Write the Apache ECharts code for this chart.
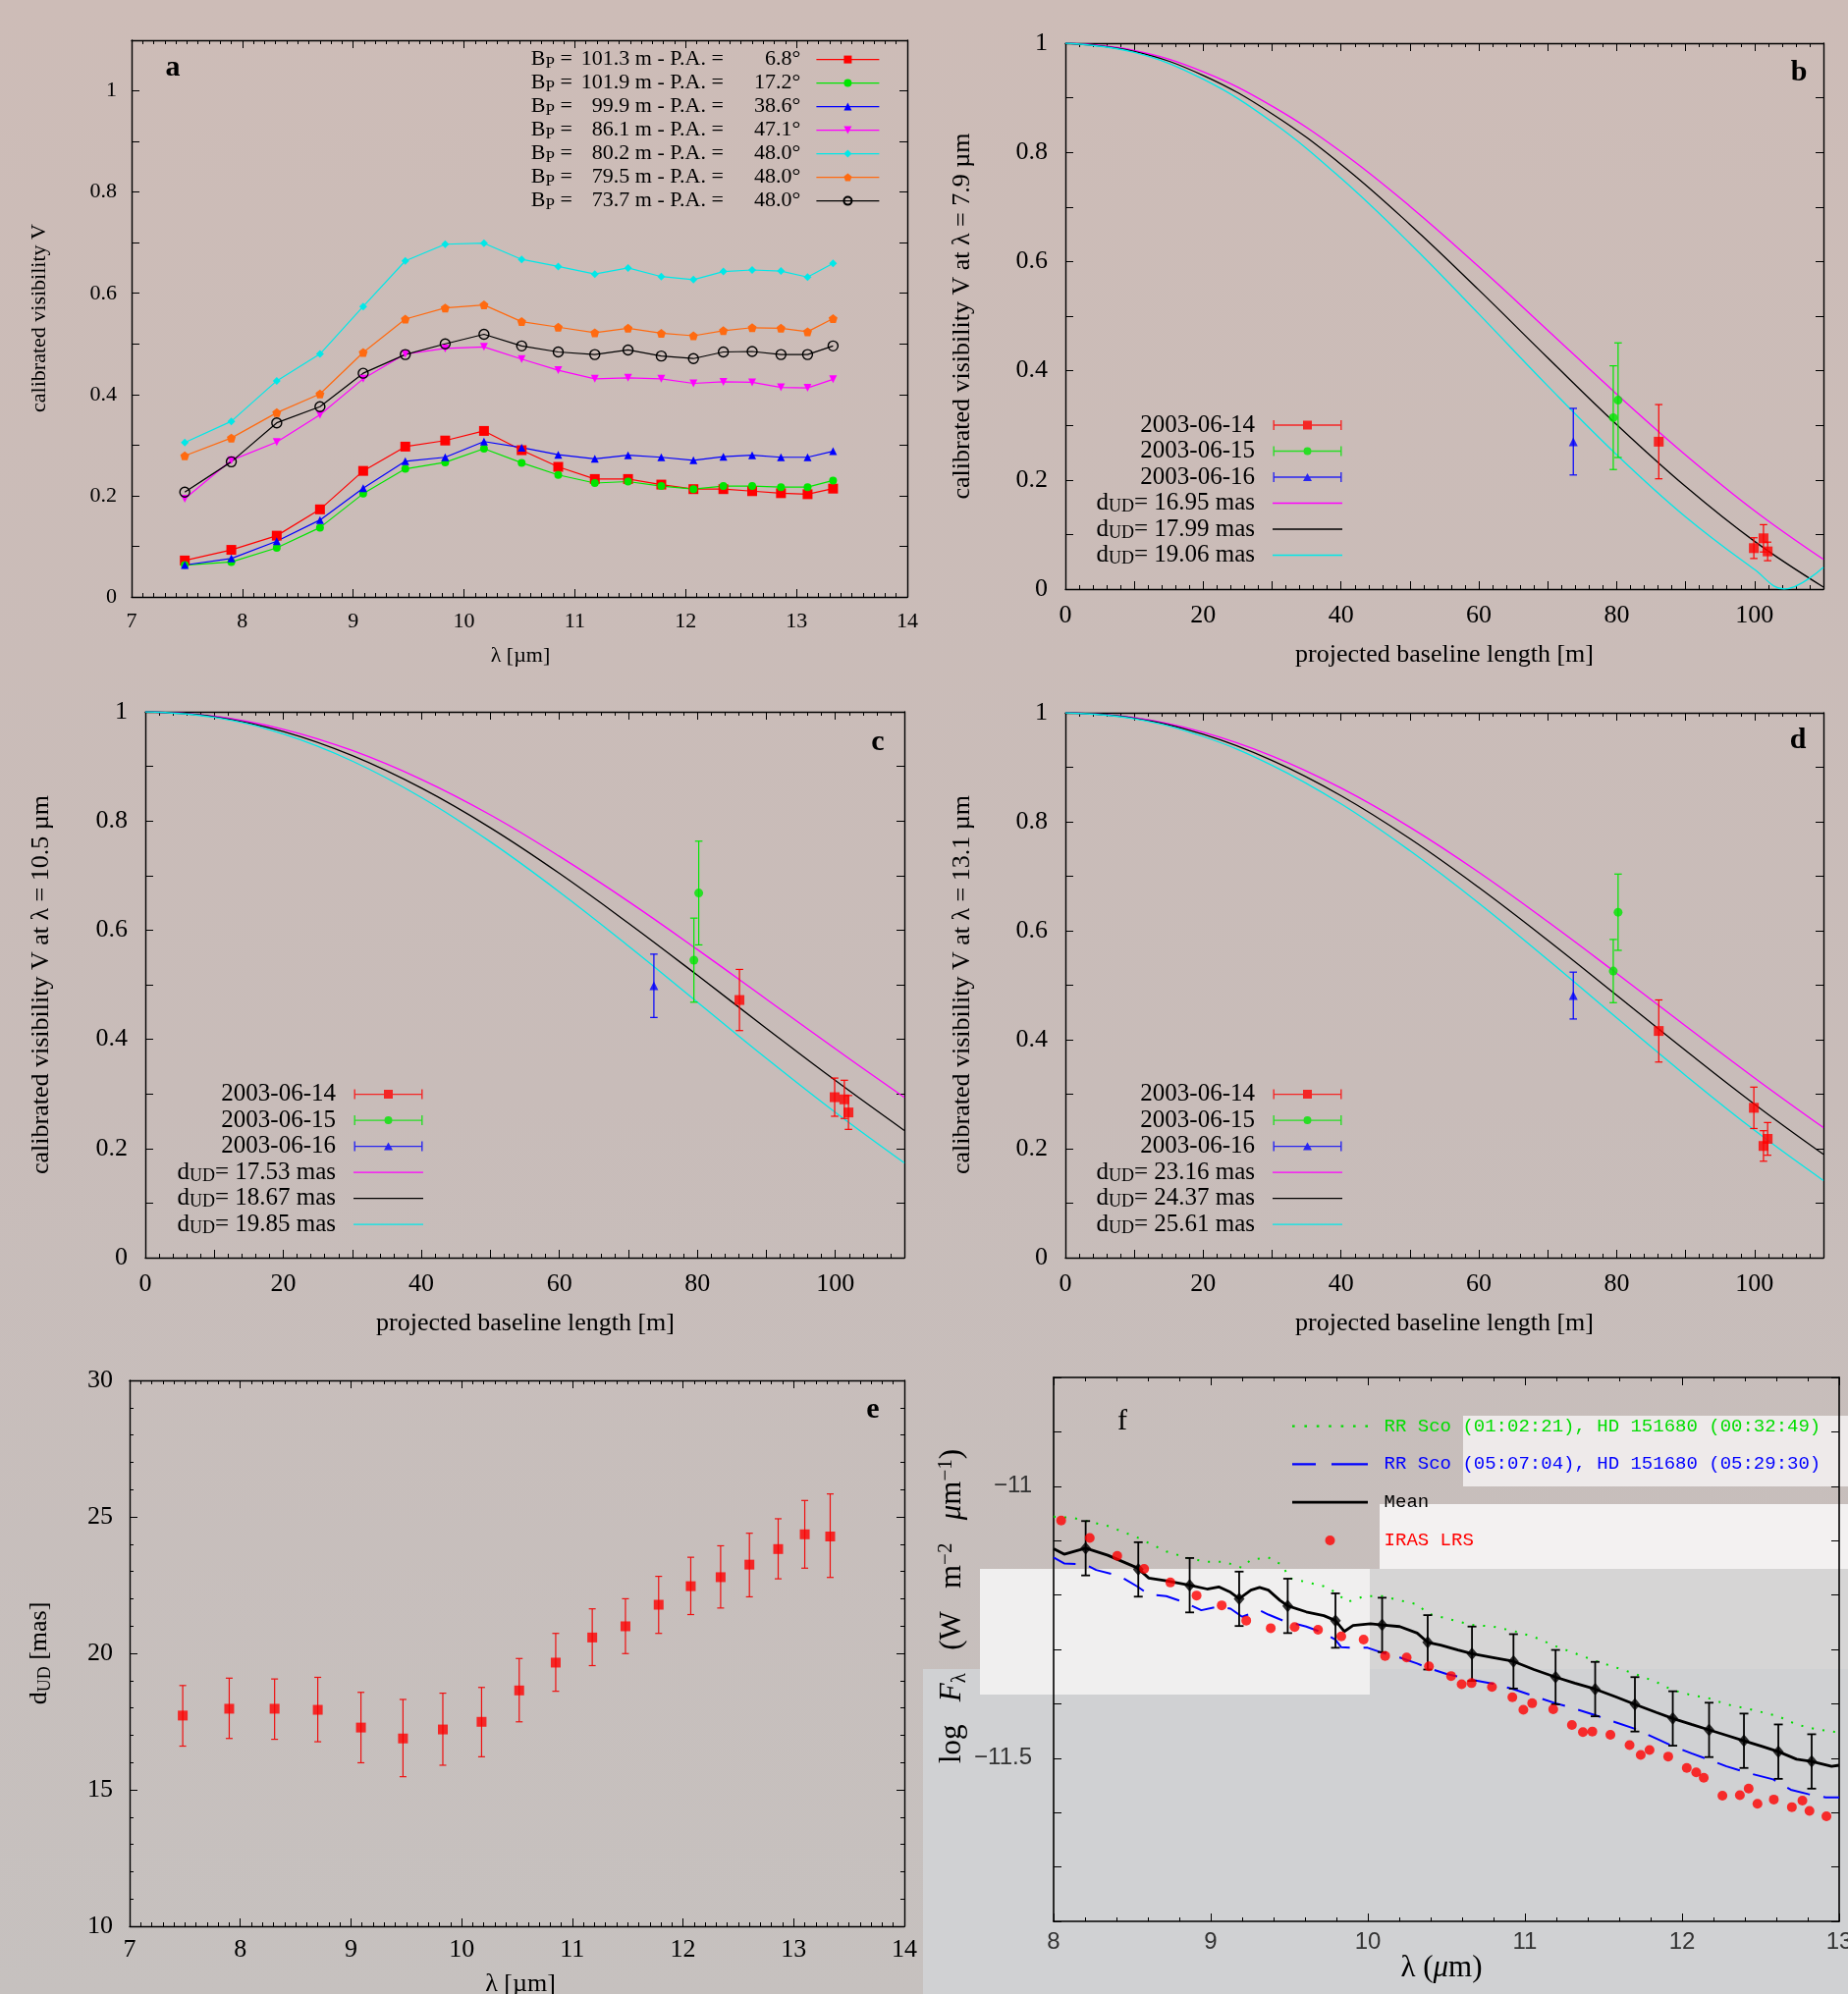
<!DOCTYPE html>
<html>
<head>
<meta charset="utf-8">
<script src="https://cdn.jsdelivr.net/npm/echarts@6/dist/echarts.min.js"></script>
<style>
  html, body { margin: 0; padding: 0; background: #c8bbb7; }
  #main { width: 1882px; height: 2031px; }
</style>
</head>
<body>
<div id="main"></div>
<script>
// ---------- data ----------
// panel a / e : wavelength grid [um]
const lambda = [7.48, 7.90, 8.31, 8.70, 9.09, 9.47, 9.83, 10.18, 10.52, 10.85, 11.18, 11.48, 11.78, 12.07, 12.34, 12.60, 12.86, 13.10, 13.33];
const baseA = ['101.3', '101.9', '99.9', '86.1', '80.2', '79.5', '73.7'];
const paA = ['6.8°', '17.2°', '38.6°', '47.1°', '48.0°', '48.0°', '48.0°'];
const visRed = [0.072, 0.093, 0.121, 0.173, 0.249, 0.297, 0.309, 0.328, 0.290, 0.257, 0.233, 0.233, 0.222, 0.213, 0.213, 0.209, 0.205, 0.203, 0.214];
const visGreen = [0.063, 0.069, 0.097, 0.137, 0.204, 0.253, 0.266, 0.293, 0.265, 0.241, 0.225, 0.228, 0.219, 0.213, 0.219, 0.219, 0.217, 0.217, 0.230];
const visBlue = [0.063, 0.076, 0.110, 0.152, 0.215, 0.268, 0.276, 0.307, 0.295, 0.281, 0.273, 0.280, 0.276, 0.270, 0.277, 0.280, 0.276, 0.276, 0.288];
const visMagenta = [0.194, 0.270, 0.306, 0.360, 0.431, 0.480, 0.491, 0.494, 0.470, 0.448, 0.431, 0.433, 0.431, 0.422, 0.425, 0.424, 0.414, 0.413, 0.430];
const visCyan = [0.305, 0.347, 0.427, 0.480, 0.574, 0.664, 0.697, 0.699, 0.667, 0.653, 0.638, 0.650, 0.633, 0.627, 0.643, 0.646, 0.644, 0.632, 0.659];
const visOrange = [0.279, 0.314, 0.364, 0.401, 0.483, 0.549, 0.571, 0.577, 0.544, 0.533, 0.522, 0.531, 0.521, 0.516, 0.526, 0.532, 0.531, 0.524, 0.550];
const visBlack = [0.207, 0.267, 0.344, 0.376, 0.442, 0.479, 0.500, 0.519, 0.496, 0.484, 0.479, 0.488, 0.476, 0.471, 0.484, 0.485, 0.479, 0.479, 0.496];

// panels b, c, d : observations vs projected baseline [m]
const base14 = [99.9, 101.3, 101.9, 86.1];
const base15 = [79.5, 80.2];
const base16 = [73.7];
const v14b = [0.075, 0.093, 0.069, 0.270], e14b = [0.019, 0.025, 0.017, 0.068];
const v15b = [0.314, 0.346], e15b = [0.095, 0.105];
const v16b = [0.270], e16b = [0.061];
const v14c = [0.294, 0.290, 0.266, 0.472], e14c = [0.035, 0.035, 0.031, 0.056];
const v15c = [0.545, 0.668], e15c = [0.077, 0.095];
const v16c = [0.498], e16c = [0.058];
const v14d = [0.275, 0.205, 0.218, 0.416], e14d = [0.038, 0.028, 0.030, 0.057];
const v15d = [0.526, 0.634], e15d = [0.058, 0.070];
const v16d = [0.481], e16d = [0.043];

// uniform disk curves, read every 10 m
const baseCurve = [0, 10, 20, 30, 40, 50, 60, 70, 80, 90, 100, 110];
const baseCurveB3 = [0, 10, 20, 30, 40, 50, 60, 70, 80, 90, 100, 104.3, 110];
const udB1 = [1, 0.9867, 0.9476, 0.8846, 0.8011, 0.7011, 0.5903, 0.4740, 0.3572, 0.2457, 0.1436, 0.0545];
const udB2 = [1, 0.9850, 0.9410, 0.8706, 0.7780, 0.6679, 0.5479, 0.4236, 0.3014, 0.1879, 0.0875, 0.0037];
const udB3 = [1, 0.9832, 0.9340, 0.8556, 0.7525, 0.6331, 0.5038, 0.3721, 0.2461, 0.1323, 0.0358, 0, 0.040];
const udC1 = [1, 0.9919, 0.9680, 0.9290, 0.8761, 0.8111, 0.7353, 0.6527, 0.5645, 0.4736, 0.3826, 0.2936];
const udC2 = [1, 0.9909, 0.9638, 0.9197, 0.8603, 0.7876, 0.7041, 0.6129, 0.5174, 0.4201, 0.3245, 0.2330];
const udC3 = [1, 0.9897, 0.9591, 0.9096, 0.8431, 0.7619, 0.6701, 0.5711, 0.4682, 0.3652, 0.2662, 0.1736];
const udD1 = [1, 0.9910, 0.9642, 0.9206, 0.8618, 0.7899, 0.7072, 0.6166, 0.5218, 0.4252, 0.3299, 0.2387];
const udD2 = [1, 0.9900, 0.9604, 0.9124, 0.8478, 0.7689, 0.6793, 0.5825, 0.4815, 0.3800, 0.2815, 0.1895];
const udD3 = [1, 0.9890, 0.9563, 0.9035, 0.8329, 0.7467, 0.6505, 0.5467, 0.4399, 0.3344, 0.2336, 0.1415];

// panel e : uniform disk diameter [mas]
const dUD = [17.72, 17.97, 17.97, 17.93, 17.28, 16.88, 17.21, 17.49, 18.64, 19.66, 20.58, 20.99, 21.78, 22.46, 22.79, 23.25, 23.82, 24.36, 24.28];
const dHi = [18.82, 19.09, 19.06, 19.12, 18.57, 18.31, 18.54, 18.75, 19.81, 20.73, 21.63, 22.00, 22.82, 23.52, 23.94, 24.40, 24.93, 25.60, 25.84];
const dLo = [16.60, 16.88, 16.85, 16.76, 15.99, 15.48, 15.90, 16.21, 17.49, 18.61, 19.55, 19.99, 20.73, 21.42, 21.66, 22.07, 22.73, 23.12, 22.78];

// panel f : spectra, log F_lambda
const lamEarly = [8.000, 8.123, 8.345, 8.531, 8.717, 8.866, 8.977, 9.088, 9.200, 9.256, 9.367, 9.460, 9.497, 9.608, 9.720, 9.794, 9.869, 9.980, 10.091, 10.203, 10.314, 10.381, 10.500, 10.663, 10.797, 10.927, 11.057, 11.195, 11.317, 11.447, 11.577, 11.700, 11.837, 11.941, 12.060, 12.172, 12.283, 12.432, 12.613, 12.729, 12.840, 13.000];
const fluxEarly = [-11.056, -11.058, -11.073, -11.094, -11.120, -11.133, -11.139, -11.139, -11.150, -11.135, -11.131, -11.146, -11.169, -11.176, -11.184, -11.195, -11.213, -11.202, -11.202, -11.210, -11.217, -11.234, -11.243, -11.255, -11.258, -11.266, -11.277, -11.294, -11.307, -11.321, -11.333, -11.345, -11.360, -11.375, -11.384, -11.390, -11.401, -11.410, -11.423, -11.438, -11.446, -11.453];
const lamLate = [8.000, 8.067, 8.204, 8.271, 8.420, 8.531, 8.606, 8.717, 8.828, 8.940, 9.051, 9.126, 9.200, 9.311, 9.367, 9.460, 9.608, 9.720, 9.794, 9.831, 9.906, 9.999, 10.091, 10.203, 10.314, 10.381, 10.500, 10.663, 10.797, 10.927, 11.057, 11.195, 11.317, 11.447, 11.577, 11.700, 11.837, 11.941, 12.060, 12.172, 12.283, 12.432, 12.580, 12.692, 12.803, 12.914, 13.000];
const fluxLate = [-11.131, -11.142, -11.144, -11.154, -11.165, -11.184, -11.199, -11.202, -11.213, -11.228, -11.221, -11.225, -11.240, -11.228, -11.236, -11.247, -11.258, -11.270, -11.282, -11.296, -11.297, -11.297, -11.306, -11.315, -11.326, -11.334, -11.345, -11.356, -11.363, -11.373, -11.386, -11.399, -11.409, -11.421, -11.434, -11.446, -11.464, -11.478, -11.491, -11.503, -11.515, -11.528, -11.539, -11.558, -11.566, -11.572, -11.572];
const lamMeanLine = [8.000, 8.067, 8.204, 8.345, 8.531, 8.606, 8.717, 8.866, 8.977, 9.051, 9.126, 9.181, 9.256, 9.311, 9.367, 9.441, 9.490, 9.608, 9.720, 9.794, 9.850, 9.906, 10.017, 10.091, 10.203, 10.314, 10.381, 10.463, 10.574, 10.663, 10.797, 10.927, 11.057, 11.195, 11.317, 11.447, 11.577, 11.700, 11.837, 11.941, 12.060, 12.172, 12.283, 12.394, 12.506, 12.613, 12.729, 12.825, 12.952, 13.000];
const fluxMeanLine = [-11.115, -11.125, -11.114, -11.127, -11.150, -11.169, -11.174, -11.182, -11.189, -11.185, -11.195, -11.207, -11.191, -11.186, -11.191, -11.210, -11.220, -11.231, -11.238, -11.247, -11.267, -11.256, -11.253, -11.255, -11.258, -11.270, -11.287, -11.292, -11.301, -11.308, -11.315, -11.322, -11.337, -11.351, -11.362, -11.373, -11.387, -11.401, -11.416, -11.427, -11.438, -11.448, -11.458, -11.468, -11.478, -11.488, -11.502, -11.506, -11.515, -11.513];
const lamMean = [8.204, 8.539, 8.866, 9.181, 9.490, 9.794, 10.091, 10.381, 10.663, 10.927, 11.195, 11.447, 11.700, 11.941, 12.172, 12.394, 12.613, 12.825];
const fluxMean = [-11.114, -11.153, -11.182, -11.207, -11.220, -11.247, -11.255, -11.287, -11.308, -11.322, -11.351, -11.373, -11.401, -11.427, -11.448, -11.468, -11.488, -11.506];
const errMean = [0.05, 0.05, 0.05, 0.05, 0.05, 0.05, 0.05, 0.05, 0.05, 0.05, 0.05, 0.05, 0.05, 0.05, 0.05, 0.05, 0.05, 0.05];
const lamIras = [8.048, 8.230, 8.405, 8.576, 8.743, 8.910, 9.070, 9.226, 9.382, 9.534, 9.683, 9.831, 9.973, 10.110, 10.247, 10.389, 10.530, 10.597, 10.660, 10.790, 10.920, 10.990, 11.046, 11.180, 11.299, 11.369, 11.429, 11.544, 11.666, 11.737, 11.793, 11.912, 12.030, 12.090, 12.138, 12.257, 12.368, 12.424, 12.480, 12.584, 12.699, 12.766, 12.811, 12.919];
const fluxIras = [-11.063, -11.095, -11.128, -11.152, -11.177, -11.201, -11.219, -11.247, -11.261, -11.259, -11.264, -11.276, -11.282, -11.312, -11.315, -11.331, -11.349, -11.364, -11.362, -11.369, -11.388, -11.411, -11.399, -11.410, -11.439, -11.452, -11.451, -11.457, -11.476, -11.494, -11.485, -11.497, -11.518, -11.526, -11.536, -11.569, -11.568, -11.556, -11.584, -11.576, -11.590, -11.578, -11.597, -11.607];

// ---------- styling ----------
const SERIF = "'Liberation Serif', 'Times New Roman', serif";
const SANS = "'Liberation Sans', Arial, sans-serif";
const MONO = "'Liberation Mono', 'DejaVu Sans Mono', monospace";
const RED = '#ff0000', GREEN = '#00e600', BLUE = '#0000ff', MAGENTA = '#ff00ff', CYAN = '#00e8e8', ORANGE = '#ff6a10';

const grids = [], xAxes = [], yAxes = [], series = [], legends = [];

function axis(gi, o, showLabel) {
  return {
    type: 'value', gridIndex: gi, min: o.min, max: o.max, interval: o.interval,
    splitLine: { show: false },
    axisLine: { show: true, onZero: false, lineStyle: { color: '#000', width: o.lw || 1.4 } },
    axisTick: { show: true, inside: true, length: o.tick || 8, lineStyle: { color: '#000', width: 1 } },
    minorTick: { show: !!o.minor, splitNumber: o.minor || 5, length: 4, lineStyle: { color: '#000', width: 1 } },
    axisLabel: {
      show: showLabel, fontFamily: o.font || SERIF, fontSize: o.size, color: o.color || '#000',
      margin: o.margin, formatter: o.fmt, showMinLabel: true, showMaxLabel: true
    }
  };
}

function panel(g, xo, yo) {
  const gi = grids.length;
  grids.push(Object.assign({ containLabel: false, outerBoundsMode: 'none' }, g));
  const xi = xAxes.length, yi = yAxes.length;
  xAxes.push(Object.assign(axis(gi, xo, true), { position: 'bottom' }));
  xAxes.push(Object.assign(axis(gi, xo, false), { position: 'top' }));
  yAxes.push(Object.assign(axis(gi, yo, true), { position: 'left' }));
  yAxes.push(Object.assign(axis(gi, yo, false), { position: 'right' }));
  return { x: xi, y: yi };
}

const fmtTenths = v => {
  const r = Math.round(v * 10);
  if (r % 2) return '';
  return r === 0 ? '0' : (r === 10 ? '1' : (r / 10).toFixed(1));
};
const fmtTwenty = v => (Math.round(v) % 20 === 0 ? String(Math.round(v)) : '');
const fmtF = v => (Math.abs(v + 11) < 1e-6 ? '\u221211' : (Math.abs(v + 11.5) < 1e-6 ? '\u221211.5' : ''));

function errBars(P, xs, lo, hi, color, cap, width) {
  return {
    type: 'custom', name: 'err' + series.length, xAxisIndex: P.x, yAxisIndex: P.y, z: 3, silent: true,
    data: xs.map((x, k) => [x, lo[k], hi[k]]),
    encode: { x: 0, y: [1, 2] },
    renderItem(params, api) {
      const x = api.value(0);
      const a = api.coord([x, api.value(2)]);
      const b = api.coord([x, api.value(1)]);
      const st = { stroke: color, lineWidth: width };
      return {
        type: 'group', children: [
          { type: 'line', shape: { x1: a[0], y1: a[1], x2: b[0], y2: b[1] }, style: st },
          { type: 'line', shape: { x1: a[0] - cap, y1: a[1], x2: a[0] + cap, y2: a[1] }, style: st },
          { type: 'line', shape: { x1: b[0] - cap, y1: b[1], x2: b[0] + cap, y2: b[1] }, style: st }
        ]
      };
    }
  };
}

function points(P, name, xs, ys, symbol, size, color) {
  return {
    type: 'scatter', name, xAxisIndex: P.x, yAxisIndex: P.y, z: 4,
    data: xs.map((x, k) => [x, ys[k]]), symbol, symbolSize: size,
    itemStyle: { color }, emphasis: { disabled: true }
  };
}

function curve(P, name, xs, ys, color, extra) {
  return Object.assign({
    type: 'line', name, xAxisIndex: P.x, yAxisIndex: P.y, z: 2,
    data: xs.map((x, k) => [x, ys[k]]), symbol: 'none', showSymbol: false,
    lineStyle: { color, width: 1.3 }, itemStyle: { color }, emphasis: { disabled: true }
  }, extra || {});
}

// ---------- panel a ----------
const PA = panel({ left: 134, top: 41, width: 790, height: 567 },
  { min: 7, max: 14, interval: 1, minor: 10, size: 22, margin: 14 },
  { min: 0, max: 1.1, interval: 0.1, fmt: fmtTenths, size: 22, margin: 15 });
const visA = [visRed, visGreen, visBlue, visMagenta, visCyan, visOrange, visBlack];
const colA = [RED, GREEN, BLUE, MAGENTA, CYAN, ORANGE, '#000'];
const pentagon = 'path://M0,-10 L9.51,-3.09 L5.88,8.09 L-5.88,8.09 L-9.51,-3.09 Z';
const symA = ['rect', 'circle', 'triangle', 'triangle', 'diamond', pentagon, 'circle'];
const sizeA = [10, 8, 8, 8, 8, 9, 10];
const rotA = [0, 0, 0, 180, 0, 0, 0];
visA.forEach((arr, i) => {
  series.push({
    type: 'line', name: 'a' + i, xAxisIndex: PA.x, yAxisIndex: PA.y, z: 3,
    data: lambda.map((l, k) => [l, arr[k]]),
    symbol: symA[i], symbolSize: sizeA[i], symbolRotate: rotA[i], showSymbol: true,
    lineStyle: { color: colA[i], width: 1.2 },
    itemStyle: i === 6 ? { color: 'rgba(0,0,0,0)', borderColor: '#000', borderWidth: 1.4 } : { color: colA[i] },
    emphasis: { disabled: true }
  });
});
const tA = { fontFamily: SERIF, fontSize: 22, lineHeight: 24, color: '#000' };
legends.push({
  orient: 'vertical', align: 'right', right: 986, top: 48.6, padding: 0, itemGap: 0,
  itemWidth: 64, itemHeight: 10, selectedMode: false, symbolKeepAspect: true,
  lineStyle: { width: 'inherit' },
  data: visA.map((_, i) => 'a' + i),
  formatter: n => {
    const i = +n.slice(1);
    return '{b|B}{s|P}{t| = }{v|' + baseA[i] + '}{t| m - P.A. = }{p|' + paA[i] + '}';
  },
  textStyle: {
    fontFamily: SERIF, fontSize: 22, lineHeight: 24, color: '#000', padding: [0, 11, 0, 0],
    rich: {
      b: tA, t: tA,
      s: { fontFamily: SERIF, fontSize: 17, lineHeight: 12, verticalAlign: 'bottom', color: '#000' },
      v: Object.assign({ width: 53, align: 'right' }, tA),
      p: Object.assign({ width: 73, align: 'right' }, tA)
    }
  }
});

// ---------- panels b, c, d ----------
const bar = 'M0,0 L1.4,0 L1.4,4.3 L68.6,4.3 L68.6,0 L70,0 L70,10 L68.6,10 L68.6,5.7 L1.4,5.7 L1.4,10 L0,10 Z';
const icSq = 'path://' + bar + ' M30.5,0.5 L39.5,0.5 L39.5,9.5 L30.5,9.5 Z';
const icCi = 'path://' + bar + ' M31,5 A4,4 0 1,1 39,5 A4,4 0 1,1 31,5 Z';
const icTr = 'path://' + bar + ' M35,1 L39.5,9 L30.5,9 Z';
const icLine = 'path://M0,4.3 L70,4.3 L70,5.7 L0,5.7 Z';
const smoothCurve = { smooth: 0.4 };

function visPanel(g, obs, curves, leg) {
  const P = panel(g,
    { min: 0, max: 110, interval: 10, minor: 5, fmt: fmtTwenty, size: 26, margin: 14 },
    { min: 0, max: 1, interval: 0.1, fmt: fmtTenths, size: 26, margin: 18 });
  curves.forEach(c => series.push(curve(P, c.name, c.xs, c.ys, c.color, smoothCurve)));
  const sets = [
    ['2003-06-14', base14, obs[0], obs[1], RED, 'rect', 10],
    ['2003-06-15', base15, obs[2], obs[3], GREEN, 'circle', 9],
    ['2003-06-16', base16, obs[4], obs[5], BLUE, 'triangle', 9]
  ];
  sets.forEach(s => {
    const lo = s[2].map((v, k) => v - s[3][k]);
    const hi = s[2].map((v, k) => v + s[3][k]);
    series.push(errBars(P, s[1], lo, hi, s[4], 3.8, 1.2));
    series.push(points(P, s[0], s[1], s[2], s[5], s[6], s[4]));
  });
  const t = { fontFamily: SERIF, fontSize: 25, lineHeight: 26, color: '#000' };
  legends.push({
    orient: 'vertical', align: 'right', right: leg.right, top: leg.top, padding: 0, itemGap: 0.5,
    itemWidth: 71, itemHeight: 10, selectedMode: false, symbolKeepAspect: true,
    data: [
      { name: '2003-06-14', icon: icSq }, { name: '2003-06-15', icon: icCi }, { name: '2003-06-16', icon: icTr },
      { name: curves[0].name, icon: icLine }, { name: curves[1].name, icon: icLine }, { name: curves[2].name, icon: icLine }
    ],
    formatter: n => (n.indexOf('dUD') === 0 ? '{d|d}{s|UD}{t|' + n.slice(3) + '}' : '{t|' + n + '}'),
    textStyle: {
      fontFamily: SERIF, fontSize: 25, lineHeight: 26, color: '#000', padding: [0, 13, 0, 0],
      rich: { t, d: t, s: { fontFamily: SERIF, fontSize: 18, lineHeight: 14, verticalAlign: 'bottom', color: '#000' } }
    }
  });
}

visPanel({ left: 1085, top: 44, width: 772, height: 556 },
  [v14b, e14b, v15b, e15b, v16b, e16b],
  [{ name: 'dUD= 16.95 mas', xs: baseCurve, ys: udB1, color: MAGENTA },
   { name: 'dUD= 17.99 mas', xs: baseCurve, ys: udB2, color: '#000' },
   { name: 'dUD= 19.06 mas', xs: baseCurveB3, ys: udB3, color: CYAN }],
  { right: 515, top: 420 });
visPanel({ left: 148, top: 725, width: 773, height: 556 },
  [v14c, e14c, v15c, e15c, v16c, e16c],
  [{ name: 'dUD= 17.53 mas', xs: baseCurve, ys: udC1, color: MAGENTA },
   { name: 'dUD= 18.67 mas', xs: baseCurve, ys: udC2, color: '#000' },
   { name: 'dUD= 19.85 mas', xs: baseCurve, ys: udC3, color: CYAN }],
  { right: 1451, top: 1101.6 });
visPanel({ left: 1085, top: 726, width: 772, height: 555 },
  [v14d, e14d, v15d, e15d, v16d, e16d],
  [{ name: 'dUD= 23.16 mas', xs: baseCurve, ys: udD1, color: MAGENTA },
   { name: 'dUD= 24.37 mas', xs: baseCurve, ys: udD2, color: '#000' },
   { name: 'dUD= 25.61 mas', xs: baseCurve, ys: udD3, color: CYAN }],
  { right: 515, top: 1101.6 });

// ---------- panel e ----------
const PE = panel({ left: 132, top: 1406, width: 789, height: 556 },
  { min: 7, max: 14, interval: 1, minor: 10, size: 26, margin: 11 },
  { min: 10, max: 30, interval: 5, minor: 5, size: 26, margin: 17 });
series.push(errBars(PE, lambda, dLo, dHi, '#ee1010', 3.5, 1.2));
series.push(points(PE, 'dUD(lambda)', lambda, dUD, 'rect', 10, RED));

// ---------- panel f ----------
const PF = panel({ left: 1073, top: 1403, width: 800, height: 554 },
  { min: 8, max: 13, interval: 1, minor: 5, font: SANS, size: 24, margin: 9, color: '#333', lw: 1.6 },
  { min: -11.8, max: -10.8, interval: 0.1, fmt: fmtF, font: SANS, size: 24, margin: 22, color: '#333', lw: 1.6 });
const nEarly = 'RR Sco (01:02:21), HD 151680 (00:32:49)';
const nLate = 'RR Sco (05:07:04), HD 151680 (05:29:30)';
series.push(curve(PF, nEarly, lamEarly, fluxEarly, '#00dd00', { lineStyle: { color: '#00dd00', width: 2, type: [2, 9] } }));
series.push(curve(PF, nLate, lamLate, fluxLate, BLUE, { lineStyle: { color: BLUE, width: 2, type: [24, 14] } }));
series.push(curve(PF, 'Mean', lamMeanLine, fluxMeanLine, '#000', { lineStyle: { color: '#000', width: 2.8 } }));
series.push(errBars(PF, lamMean, fluxMean.map((v, k) => v - errMean[k]), fluxMean.map((v, k) => v + errMean[k]), '#000', 4.5, 1.8));
series.push(points(PF, 'meanPts', lamMean, fluxMean, 'diamond', [11, 13], '#000'));
series.push(points(PF, 'IRAS LRS', lamIras, fluxIras, 'circle', 10, RED));

let dots = 'path://';
for (let k = 0; k < 7; k++) {
  const x = (k * 12.3).toFixed(1), x2 = (k * 12.3 + 2.6).toFixed(1);
  dots += 'M' + x + ',3.8 L' + x2 + ',3.8 L' + x2 + ',6.2 L' + x + ',6.2 Z ';
}
legends.push({
  orient: 'vertical', align: 'left', left: 1316, top: 1442.6, padding: 0, itemGap: 18.8,
  itemWidth: 77, itemHeight: 10, selectedMode: false, symbolKeepAspect: true,
  data: [
    { name: nEarly, icon: dots, textStyle: { color: '#00dd00' } },
    { name: nLate, icon: 'path://M0,3.8 L24,3.8 L24,6.2 L0,6.2 Z M40,3.8 L77,3.8 L77,6.2 L40,6.2 Z', textStyle: { color: BLUE } },
    { name: 'Mean', icon: 'path://M0,3.6 L77,3.6 L77,6.4 L0,6.4 Z', textStyle: { color: '#000' } },
    { name: 'IRAS LRS', icon: 'circle', textStyle: { color: RED } }
  ],
  textStyle: { fontFamily: MONO, fontSize: 19, lineHeight: 20, padding: [0, 0, 0, 11.6] }
});

// ---------- texts and backdrop ----------
function txt(x, y, text, size, extra) {
  return {
    type: 'text', x, y, z: 100, silent: true,
    style: Object.assign({ text, fontFamily: SERIF, fontSize: size, fill: '#000', align: 'center', verticalAlign: 'middle' }, extra || {})
  };
}
const up = Math.PI / 2;
const rn = (size) => ({ fontFamily: SERIF, fontSize: size, fill: '#000', lineHeight: size + 4 });
const box = (x, y, w, h, fill) => ({ type: 'rect', z: -19, silent: true, shape: { x, y, width: w, height: h }, style: { fill } });
const graphics = [
  { type: 'rect', z: -20, silent: true, shape: { x: 0, y: 0, width: 1882, height: 2031 },
    style: { fill: new echarts.graphic.LinearGradient(0, 0, 0, 1, [{ offset: 0, color: '#cdbcb7' }, { offset: 0.55, color: '#c8bcb9' }, { offset: 1, color: '#c6c1bf' }]) } },
  box(940, 1700, 942, 331, '#d0d1d3'),
  box(1390, 1598, 492, 102, '#d6d5d5'),
  box(1490, 1442, 392, 72, '#eeeaea'),
  box(1405, 1532, 477, 66, '#f3f1f1'),
  box(998, 1598, 397, 128, '#f0efef'),

  txt(176, 69, 'a', 30, { fontWeight: 'bold' }),
  txt(1832, 74, 'b', 30, { fontWeight: 'bold' }),
  txt(894, 756, 'c', 30, { fontWeight: 'bold' }),
  txt(1831, 754, 'd', 30, { fontWeight: 'bold' }),
  txt(889, 1436, 'e', 30, { fontWeight: 'bold' }),
  txt(1143, 1448, 'f', 30),

  Object.assign(txt(40, 324, 'calibrated visibility V', 22), { rotation: up }),
  txt(530, 668, 'λ [µm]', 22),
  Object.assign(txt(980, 322, 'calibrated visibility V at λ = 7.9 µm', 26), { rotation: up }),
  txt(1471, 667, 'projected baseline length [m]', 26),
  Object.assign(txt(42, 1003, 'calibrated visibility V at λ = 10.5 µm', 26), { rotation: up }),
  txt(535, 1348, 'projected baseline length [m]', 26),
  Object.assign(txt(980, 1003, 'calibrated visibility V at λ = 13.1 µm', 26), { rotation: up }),
  txt(1471, 1348, 'projected baseline length [m]', 26),
  Object.assign(txt(40, 1684, '{d|d}{s|UD}{d| [mas]}', 26, {
    rich: { d: rn(26), s: { fontFamily: SERIF, fontSize: 18, fill: '#000', lineHeight: 14, verticalAlign: 'bottom' } }
  }), { rotation: up }),
  txt(530, 2021, 'λ [µm]', 26),
  Object.assign(txt(970, 1636, '{n|log   }{i|F}{s|λ}{n|   (W   m}{p|\u22122}{n|   }{i|μ}{n|m}{p|\u22121}{n|)}', 31, {
    rich: {
      n: rn(31),
      i: Object.assign(rn(31), { fontStyle: 'italic' }),
      s: { fontFamily: SERIF, fontSize: 21, fill: '#000', lineHeight: 15, verticalAlign: 'bottom' },
      p: { fontFamily: SERIF, fontSize: 21, fill: '#000', lineHeight: 15, verticalAlign: 'top' }
    }
  }), { rotation: up }),
  txt(1468, 2005, '{n|λ (}{i|μ}{n|m)}', 31, {
    rich: { n: rn(31), i: Object.assign(rn(31), { fontStyle: 'italic' }) }
  })
];

const chart = echarts.init(document.getElementById('main'), null, { renderer: 'canvas' });
chart.setOption({
  animation: false,
  backgroundColor: '#c8bbb7',
  grid: grids,
  xAxis: xAxes,
  yAxis: yAxes,
  legend: legends,
  series: series,
  graphic: { elements: graphics }
});
</script>
</body>
</html>
